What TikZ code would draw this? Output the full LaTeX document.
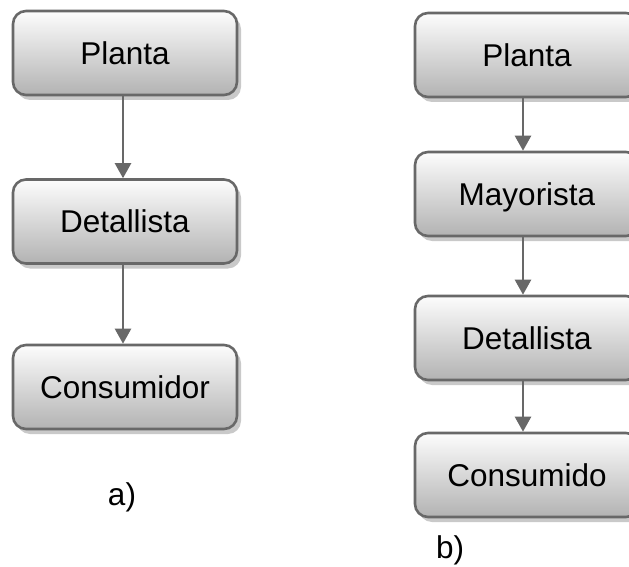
\documentclass[tikz,border=0pt]{standalone}
\usepackage{fontspec}
\setmainfont{Liberation Sans}
\usetikzlibrary{arrows.meta,shadows}
\definecolor{boxline}{HTML}{686868}
\begin{document}
\begin{tikzpicture}[x=1pt,y=-1pt,
  box/.style={rounded corners=13pt, draw=boxline, line width=2.6pt,
    top color=gray!2, bottom color=gray!60,
    minimum width=224pt, minimum height=84pt, inner sep=0pt,
    font=\fontsize{31.5}{36}\selectfont, text height=22.5pt, text depth=0pt,
    drop shadow={shadow xshift=4pt, shadow yshift=-5pt, fill=gray!42, opacity=1}},
  flow/.style={draw=boxline, line width=2.4pt, -{Triangle[length=15pt,width=16pt]}},
  lbl/.style={font=\fontsize{31.5}{36}\selectfont}]
\useasboundingbox (0,0) rectangle (629,567);
\fill[white] (0,0) rectangle (629,567);
\clip (0,0) rectangle (629,567);

% chain a)
\node[box] (pa) at (125,53) {Planta};
\node[box] (da) at (125,221.5) {Detallista};
\node[box] (ca) at (125,387) {Consumidor};
\node[lbl] (la) at (122,497) {a)};

% chain b)
\node[box] (pb) at (527,55) {Planta};
\node[box] (mb) at (527,194) {Mayorista};
\node[box] (db) at (527,338) {Detallista};
\node[box] (cb) at (527,475) {Consumido};
\node[lbl] (lb) at (450,550) {b)};

\draw[flow] ([xshift=-2pt]pa.south) -- ([xshift=-2pt]da.north);
\draw[flow] ([xshift=-2pt]da.south) -- ([xshift=-2pt]ca.north);
\draw[flow] ([xshift=-4pt]pb.south) -- ([xshift=-4pt]mb.north);
\draw[flow] ([xshift=-4pt]mb.south) -- ([xshift=-4pt]db.north);
\draw[flow] ([xshift=-4pt]db.south) -- ([xshift=-4pt]cb.north);
\end{tikzpicture}
\end{document}
